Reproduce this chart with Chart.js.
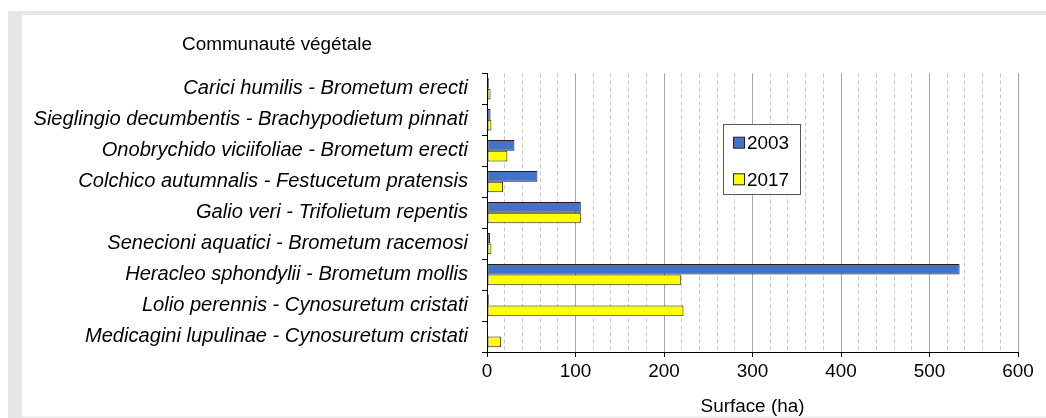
<!DOCTYPE html>
<html>
<head>
<meta charset="utf-8">
<script src="https://cdn.jsdelivr.net/npm/chart.js@4.4.0/dist/chart.umd.min.js"></script>
<style>
  html, body { margin: 0; padding: 0; background: #fff; }
  #wrap { width: 1046px; height: 418px; }
</style>
</head>
<body>
<div id="wrap"><canvas id="chart" width="1046" height="418"></canvas></div>
<script>
// categories (top to bottom)
const communities = [
  "Carici humilis - Brometum erecti",
  "Sieglingio decumbentis - Brachypodietum pinnati",
  "Onobrychido viciifoliae - Brometum erecti",
  "Colchico autumnalis - Festucetum pratensis",
  "Galio veri - Trifolietum repentis",
  "Senecioni aquatici - Brometum racemosi",
  "Heracleo sphondylii - Brometum mollis",
  "Lolio perennis - Cynosuretum cristati",
  "Medicagini lupulinae - Cynosuretum cristati"
];
const years = ["2003", "2017"];
const surface2003 = [2, 4, 31, 57, 106, 3.5, 534, 2, 1];
const surface2017 = [4, 5, 23, 18, 106, 5, 219, 222, 16];
const xMajorTicks = [0, 100, 200, 300, 400, 500, 600];

const FONT = '"Liberation Sans", Arial, sans-serif';

const isMajor = (v) => xMajorTicks.includes(v);

// grey frame behind the white panel
const framePlugin = {
  id: "frame",
  beforeDraw(chart) {
    const ctx = chart.ctx;
    ctx.save();
    ctx.fillStyle = "#fff";
    ctx.fillRect(0, 0, chart.width, chart.height);
    ctx.fillStyle = "#e6e7e9";
    ctx.fillRect(8, 11, chart.width - 8, chart.height - 11);
    ctx.fillStyle = "#fff";
    ctx.fillRect(22, 15, chart.width - 22, 401.5);
    ctx.restore();
  }
};

// y axis heading + legend box
const extrasPlugin = {
  id: "extras",
  afterDraw(chart) {
    const ctx = chart.ctx;
    ctx.save();
    ctx.font = "18.9px " + FONT;
    ctx.fillStyle = "#000";
    ctx.textBaseline = "middle";
    ctx.textAlign = "left";
    ctx.fillText("Communauté végétale", 182, 45);

    // legend
    ctx.fillStyle = "#fff";
    ctx.fillRect(723.5, 124.5, 77, 70);
    ctx.strokeStyle = "#595959";
    ctx.lineWidth = 1;
    ctx.strokeRect(723.5, 124.5, 77, 70);
    const rows = [142.7, 179.3];
    chart.data.datasets.forEach((ds, i) => {
      ctx.fillStyle = ds.backgroundColor;
      ctx.fillRect(733.5, rows[i] - 5.5, 11, 11);
      ctx.strokeStyle = "#222";
      ctx.strokeRect(733.5, rows[i] - 5.5, 11, 11);
      ctx.fillStyle = "#000";
      ctx.font = "18.9px " + FONT;
      ctx.fillText(ds.label, 747, rows[i] + 1);
    });
    ctx.restore();
  }
};

new Chart(document.getElementById("chart"), {
  type: "bar",
  data: {
    labels: communities,
    datasets: [
      {
        label: years[0],
        data: surface2003,
        backgroundColor: "#4472C4",
        borderColor: "#1f1f1f",
        borderWidth: 1,
        borderSkipped: false,
        barPercentage: 1,
        categoryPercentage: 0.69
      },
      {
        label: years[1],
        data: surface2017,
        backgroundColor: "#FFFF00",
        borderColor: "#1f1f1f",
        borderWidth: 1,
        borderSkipped: false,
        barPercentage: 1,
        categoryPercentage: 0.69
      }
    ]
  },
  options: {
    indexAxis: "y",
    responsive: false,
    animation: false,
    layout: { padding: { left: 0, top: 73.3, right: 28, bottom: 0 } },
    plugins: {
      legend: { display: false },
      tooltip: { enabled: false }
    },
    scales: {
      x: {
        type: "linear",
        min: 0,
        max: 600,
        afterFit(scale) { scale.height = 66; },
        ticks: {
          stepSize: 20,
          autoSkip: false,
          maxRotation: 0,
          padding: 3,
          color: "#000",
          font: { family: FONT, size: 18.9 },
          callback: (v) => (isMajor(v) ? v : "")
        },
        grid: {
          color: (c) => (c.tick && isMajor(c.tick.value) ? "#a6a6a6" : "#c9c9c9"),
          tickColor: (c) => (c.tick && isMajor(c.tick.value) ? "#000" : "rgba(0,0,0,0)"),
          tickLength: 5,
          lineWidth: 1
        },
        border: {
          color: "#000",
          width: 1,
          dash: (c) => (c.tick && !isMajor(c.tick.value) ? [4, 3] : [])
        },
        title: {
          display: true,
          text: "Surface (ha)",
          color: "#000",
          font: { family: FONT, size: 18.9 },
          padding: { top: 0, bottom: 0 }
        }
      },
      y: {
        type: "category",
        afterFit(scale) { scale.width = 487; },
        ticks: {
          padding: 14,
          color: "#000",
          font: { family: FONT, size: 20.1, style: "italic" }
        },
        grid: {
          offset: true,
          drawOnChartArea: false,
          tickLength: 5,
          tickColor: "#000"
        },
        border: { color: "#000", width: 1 }
      }
    }
  },
  plugins: [framePlugin, extrasPlugin]
});
</script>
</body>
</html>
